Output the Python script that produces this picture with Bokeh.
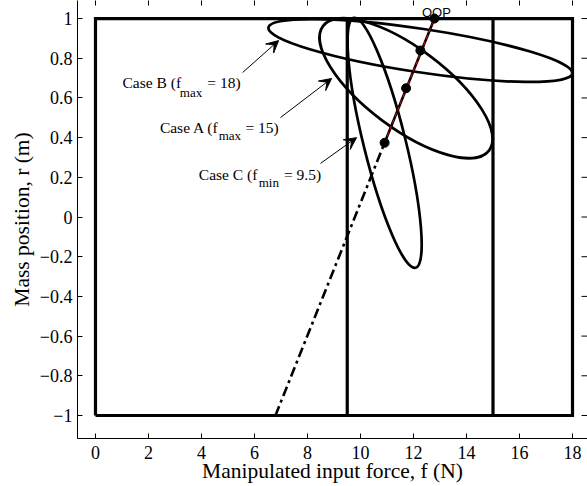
import math
from bokeh.plotting import figure
from bokeh.models import Range1d, FixedTicker, Label, Arrow, VeeHead
from bokeh.embed import file_html
from bokeh.resources import INLINE

# ---------------- data ----------------
# constraint box on input force f (N) and mass position r (m)
f_bounds = [0.0, 18.0]
r_bounds = [-1.0, 1.0]
f_min_caseC = 9.5
f_max_caseA = 15.0

# steady-state operating points along the OOP line (cases C, A, B) and the OOP
op_f = [10.91, 11.72, 12.26, 12.79]
op_r = [0.374, 0.649, 0.839, 1.0]
# where the dash-dot steady-state line enters the box at r = -1
line_start_f = 6.79
line_start_r = -1.0

# closed-loop trajectories (ellipses) around the operating points: cases C, A, B
ell_f = [10.91, 11.72, 12.26]
ell_r = [0.374, 0.649, 0.839]
ell_w = [1.585, 7.83, 11.60]
ell_h = [1.297, 0.405, 0.219]
ell_angle = [0.243, -0.642, -0.150]

x_ticks = [0, 2, 4, 6, 8, 10, 12, 14, 16, 18]
y_ticks = [-1.0, -0.8, -0.6, -0.4, -0.2, 0.0, 0.2, 0.4, 0.6, 0.8, 1.0]
y_tick_labels = ["\u22121", "\u22120.8", "\u22120.6", "\u22120.4", "\u22120.2", "0",
                 "0.2", "0.4", "0.6", "0.8", "1"]

case_texts = ["Case B (f", "Case A (f", "Case C (f"]
case_subs = ["max", "max", "min"]
case_tails = ["= 18)", "= 15)", "= 9.5)"]

# ---------------- figure ----------------
SERIF = "Liberation Serif"
X_START, X_END = -0.679, 18.566
Y_START, Y_END = -1.116, 1.091
p = figure(width=587, height=486,
           x_range=Range1d(X_START, X_END), y_range=Range1d(Y_START, Y_END),
           output_backend="svg", toolbar_location=None,
           min_border_left=77, min_border_right=0, min_border_top=0, min_border_bottom=48)
p.xgrid.visible = False
p.ygrid.visible = False
p.outline_line_color = None
p.background_fill_color = "white"
p.border_fill_color = "white"

for ax in (p.xaxis[0], p.yaxis[0]):
    ax.major_tick_in = 5
    ax.major_tick_out = 0
    ax.minor_tick_in = 0
    ax.minor_tick_out = 0
    ax.axis_line_width = 1
    ax.axis_line_color = "black"
    ax.major_tick_line_color = "black"
    ax.major_label_text_font = SERIF
    ax.major_label_text_font_size = "18px"
    ax.major_label_text_color = "black"
    ax.axis_label_text_font = SERIF
    ax.axis_label_text_font_size = "21.5px"
    ax.axis_label_text_font_style = "normal"
    ax.axis_label_text_color = "black"

p.xaxis.ticker = FixedTicker(ticks=x_ticks)
p.yaxis.ticker = FixedTicker(ticks=y_ticks)
p.yaxis.major_label_overrides = {t: l for t, l in zip(y_ticks, y_tick_labels)}
p.xaxis.axis_label = "Manipulated input force, f (N)"
p.yaxis.axis_label = "Mass position, r (m)"
p.xaxis.major_label_standoff = 7
p.xaxis.axis_label_standoff = -3
p.yaxis.major_label_standoff = 5
p.yaxis.axis_label_standoff = 3

# inward tick marks on the (cropped) top and right sides of the axes box
p.scatter(x=x_ticks, y=[Y_END] * len(x_ticks), marker="dash", size=10,
          angle=math.pi / 2, line_color="black", line_width=1)
p.scatter(x=[X_END] * len(y_ticks), y=y_ticks, marker="dash", size=12,
          line_color="black", line_width=1)

# constraint box and the two inner force limits
f0, f1 = f_bounds
r0, r1 = r_bounds
p.line(x=[f0, f1, f1, f0, f0], y=[r0, r0, r1, r1, r0], line_color="black",
       line_width=3.2, line_join="miter")
p.segment(x0=[f_min_caseC, f_max_caseA], y0=[r0, r0], x1=[f_min_caseC, f_max_caseA],
          y1=[r1, r1], line_color="black", line_width=3.2)

# trajectories
p.ellipse(x=ell_f, y=ell_r, width=ell_w, height=ell_h, angle=ell_angle,
          fill_color=None, line_color="black", line_width=2.7)

# steady-state line
p.line(x=[line_start_f, op_f[0]], y=[line_start_r, op_r[0]], line_color="black",
       line_width=2.6, line_dash="10 4 3 4")
p.line(x=[op_f[0], op_f[-1]], y=[op_r[0], op_r[-1]], line_color="black", line_width=2.6)
p.line(x=[op_f[0], op_f[-1]], y=[op_r[0], op_r[-1]], line_color="red", line_width=1,
       line_dash="4 3")
p.scatter(x=op_f, y=op_r, size=9, color="black")

p.add_layout(Label(x=op_f[-1], y=op_r[-1], text="OOP", text_align="center",
                   text_baseline="alphabetic", x_offset=2, y_offset=6,
                   text_font="Liberation Sans", text_font_size="13px", text_color="black"))

# case labels (main text, subscript, tail) and arrows
lab_main = [(1.02, 0.679), (2.43, 0.452), (3.90, 0.214)]
lab_sub = [(3.18, 0.629), (4.65, 0.411), (6.16, 0.175)]
lab_tail = [(4.22, 0.679), (5.66, 0.452), (7.11, 0.214)]
arrows = [((5.55, 0.728), (6.91, 0.889)),
          ((6.98, 0.501), (8.91, 0.698)),
          ((8.49, 0.270), (9.85, 0.400))]
for i in range(3):
    p.add_layout(Label(x=lab_main[i][0], y=lab_main[i][1], text=case_texts[i],
                       text_align="left", text_baseline="middle", text_font=SERIF,
                       text_font_size="15.5px", text_color="black"))
    p.add_layout(Label(x=lab_sub[i][0], y=lab_sub[i][1], text=case_subs[i],
                       text_align="left", text_baseline="middle", text_font=SERIF,
                       text_font_size="13px", text_color="black"))
    p.add_layout(Label(x=lab_tail[i][0], y=lab_tail[i][1], text=case_tails[i],
                       text_align="left", text_baseline="middle", text_font=SERIF,
                       text_font_size="15.5px", text_color="black"))
    (xs, ys), (xe, ye) = arrows[i]
    p.add_layout(Arrow(x_start=xs, y_start=ys, x_end=xe, y_end=ye, line_width=1,
                       line_color="black",
                       end=VeeHead(size=12, fill_color="black", line_color="black",
                                   line_width=1)))

open("out.html", "w").write(file_html(p, INLINE))
